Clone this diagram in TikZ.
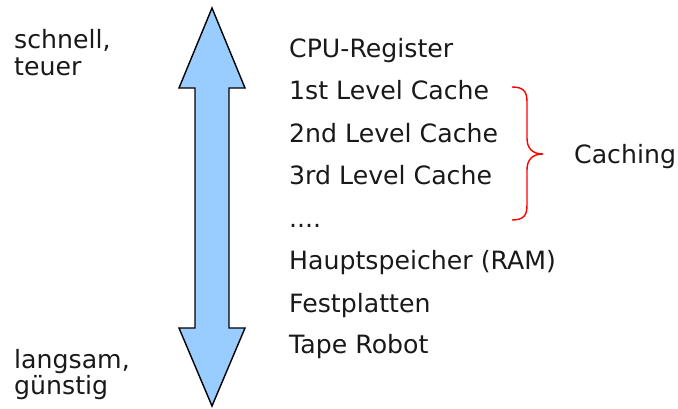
\documentclass[tikz,border=0pt]{standalone}
\usepackage{fontspec}
\setmainfont{DejaVu Sans}
\begin{document}
\begin{tikzpicture}[x=1pt,y=-1pt,
  lbl/.style={anchor=base west,inner sep=0pt,font=\fontsize{25.2}{29}\selectfont,text=black!90},
  arrowshape/.style={draw=black,line width=1.4pt,fill=arrowblue,line join=miter},
  bracestyle/.style={draw=red,line width=1.4pt}]
\definecolor{arrowblue}{HTML}{99CCFF}
\useasboundingbox (0,0) rectangle (678,408);
% double arrow
\draw[arrowshape] (212,8) -- (245,88) -- (229,88) -- (229,328) -- (245,328) -- (212,406)
  -- (179,328) -- (195,328) -- (195,88) -- (179,88) -- cycle;
% left labels
\node[lbl] (s1) at (14,48) {schnell,};
\node[lbl] (s2) at (14,75) {teuer};
\node[lbl] (l1) at (14,368) {langsam,};
\node[lbl] (l2) at (14,394) {günstig};
% hierarchy
\node[lbl] (h1) at (289,57) {CPU-Register};
\node[lbl] (h2) at (289,99) {1st Level Cache};
\node[lbl] (h3) at (289,142) {2nd Level Cache};
\node[lbl] (h4) at (289,184) {3rd Level Cache};
\node[lbl] (h5) at (289,227) {....};
\node[lbl] (h6) at (289,269) {Hauptspeicher (RAM)};
\node[lbl] (h7) at (289,312) {Festplatten};
\node[lbl] (h8) at (289,353) {Tape Robot};
% brace
\coordinate (bt) at (512,87);
\coordinate (bm) at (543,154);
\coordinate (bb) at (512,220);
\draw[bracestyle] (bt) .. controls (524,87) and (527,92) .. (527,102)
  -- (527,138) .. controls (527,148) and (532,154) .. (bm)
  .. controls (532,154) and (527,160) .. (527,170)
  -- (527,205) .. controls (527,215) and (524,220) .. (bb);
\node[lbl] (c) at (574,163) {Caching};
\end{tikzpicture}
\end{document}
